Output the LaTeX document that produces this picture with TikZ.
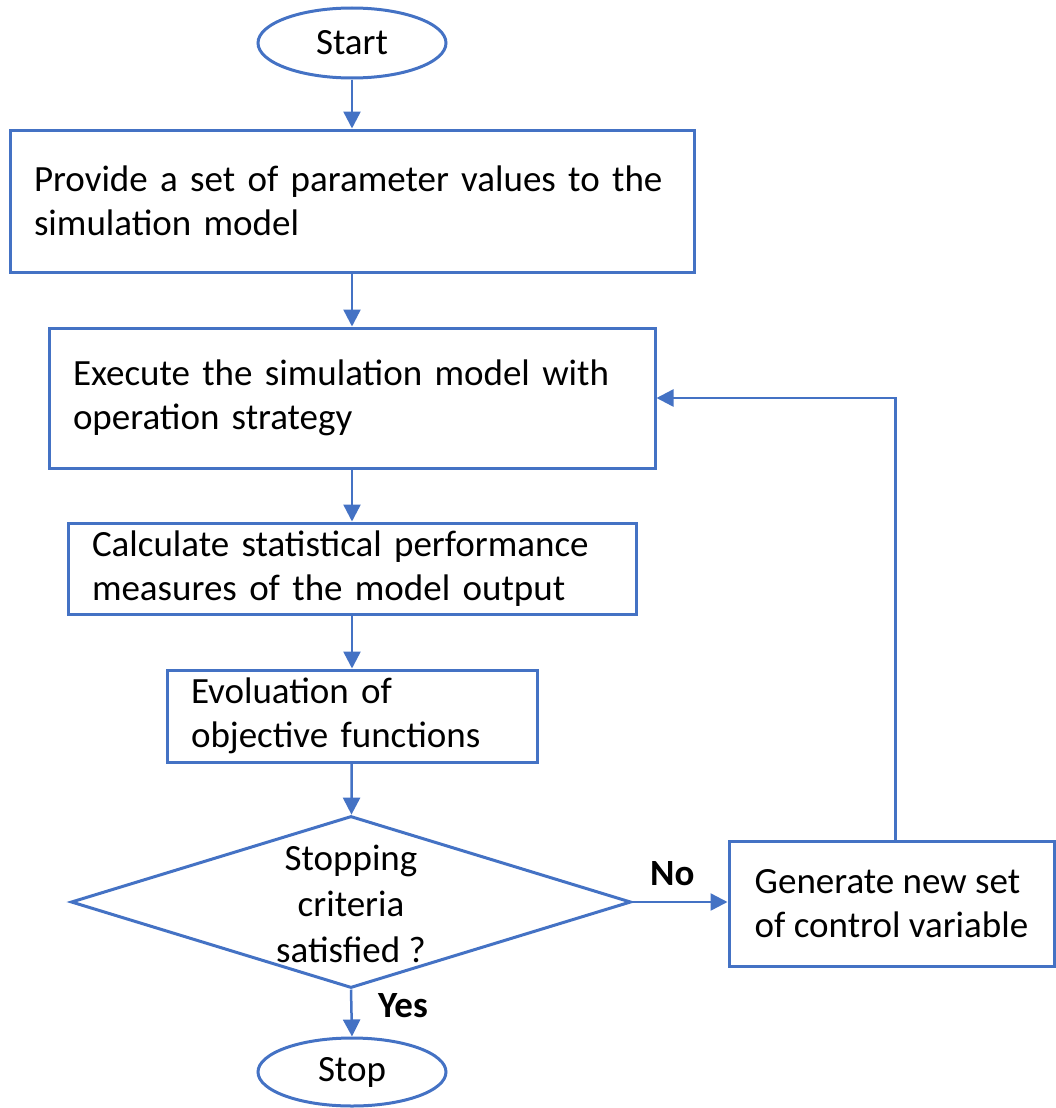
\documentclass[tikz,border=0pt]{standalone}
\usepackage{fontspec}
\setmainfont{Carlito}
\usetikzlibrary{shapes.geometric,arrows.meta}
\definecolor{fblue}{HTML}{4472C4}
\begin{document}
\begin{tikzpicture}[x=1pt,y=-1pt,
  every node/.style={font=\fontsize{37}{44}\selectfont},
  procbox/.style={draw=fblue, line width=3pt, rectangle, inner xsep=24pt, inner ysep=0pt, align=left},
  term/.style={draw=fblue, line width=3pt, ellipse, minimum width=188pt, minimum height=70pt, inner sep=0pt},
  decision/.style={draw=fblue, line width=3pt, diamond, minimum width=560pt, minimum height=172pt, inner sep=0pt},
  flow/.style={draw=fblue, line width=2.5pt, -{Triangle[width=17pt,length=17pt]}},
  lbl/.style={font=\fontsize{37}{44}\selectfont\bfseries, inner sep=0pt}]
\useasboundingbox (0,0) rectangle (1056,1108);

\node[term] (start) at (352,43) {Start};
\node[procbox, text width=636pt, minimum height=142pt] (b1) at (352,201)
  {Provide a set of parameter values to the\\simulation model};
\node[procbox, text width=558pt, minimum height=140pt] (b2) at (352,398)
  {Execute the simulation model with\\operation strategy};
\node[procbox, text width=520pt, minimum height=91pt] (b3) at (352,568.5)
  {Calculate statistical performance\\measures of the model output};
\node[procbox, text width=322pt, minimum height=92pt] (b4) at (352,716)
  {Evoluation of\\objective functions};
\node[decision] (dec) at (351,902) {};
\node[align=center, inner sep=0pt] (dectext) at (351,904) {Stopping\\[2pt]criteria\\[2pt]satisfied ?};
\node[procbox, inner xsep=0pt, minimum width=325pt, minimum height=125pt] (b5) at (891.5,903.5)
  {Generate new set\\of control variable};
\node[term, minimum height=68pt] (stop) at (352,1072) {Stop};

\node[lbl, anchor=base west] (no) at (650,885) {No};
\node[lbl, anchor=base west] (yes) at (378,1017) {Yes};

\draw[flow] (start) -- (b1);
\draw[flow] (b1) -- (b2);
\draw[flow] (b2) -- (b3);
\draw[flow] (b3) -- (b4);
\draw[flow] (b4) -- (dec);
\draw[flow] (dec.east) -- (dec.east -| b5.west);
\draw[flow] (dec.south) -- (stop.north);
\draw[flow] ([xshift=4pt]b5.north) |- (b2.east);
\end{tikzpicture}
\end{document}
